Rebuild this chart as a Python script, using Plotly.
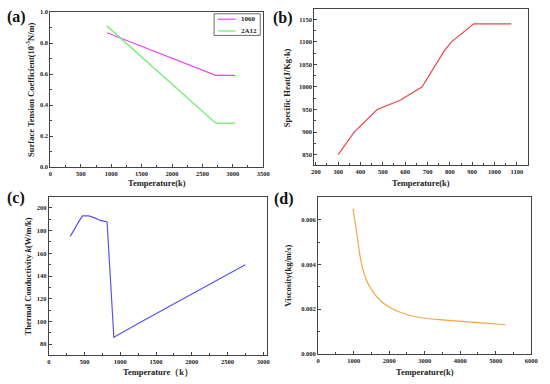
import plotly.graph_objects as go

# (a) surface tension
a_T = [930, 2720, 3040]
a_1060 = [0.867, 0.592, 0.592]
a_2A12 = [0.911, 0.283, 0.283]

# (b) specific heat
b_T = [300, 372, 475, 575, 675, 775, 807, 907, 1075]
b_cp = [850, 900, 950, 970, 1000, 1080, 1100, 1140, 1140]

# (c) thermal conductivity
c_T = [300, 350, 400, 470, 560, 650, 720, 800, 815, 910, 1300, 2750]
c_k = [175, 181, 186, 193, 193, 191, 189, 188, 187.5, 86, 100, 150]

# (d) viscosity
d_T = [980, 1093, 1187, 1327, 1514, 1794, 2075, 2449, 3009, 3570, 4131, 4692, 5280]
d_mu = [0.0065, 0.00534, 0.00431, 0.00343, 0.00284, 0.00232, 0.00203, 0.00178,
        0.00159, 0.00151, 0.00144, 0.00137, 0.0013]

W, H = 550, 384
FONT = "Liberation Serif"
C1060, C2A12 = "#ee44ee", "#66ee66"

def px(x0, x1):
    return [x0 / W, x1 / W]

def py(top, bottom):
    return [1 - bottom / H, 1 - top / H]

fig = go.Figure()
fig.add_trace(go.Scatter(x=a_T, y=a_1060, mode="lines", name="1060", showlegend=False,
                         line=dict(color=C1060, width=1.2), xaxis="x", yaxis="y"))
fig.add_trace(go.Scatter(x=a_T, y=a_2A12, mode="lines", name="2A12", showlegend=False,
                         line=dict(color=C2A12, width=1.2), xaxis="x", yaxis="y"))
fig.add_trace(go.Scatter(x=b_T, y=b_cp, mode="lines", showlegend=False,
                         line=dict(color="#ee4444", width=1.2), xaxis="x2", yaxis="y2"))
fig.add_trace(go.Scatter(x=c_T, y=c_k, mode="lines", showlegend=False,
                         line=dict(color="#5555ee", width=1.2), xaxis="x3", yaxis="y3"))
fig.add_trace(go.Scatter(x=d_T, y=d_mu, mode="lines", showlegend=False,
                         line=dict(color="#f5a545", width=1.2, shape="spline", smoothing=1.0),
                         xaxis="x4", yaxis="y4"))

tickfont = dict(family=FONT, size=6.5, color="#222", weight="bold")

def ax(domain, rng, dtick, minor_dtick, anchor, tickformat=None):
    d = dict(domain=domain, range=rng, dtick=dtick, tick0=0, anchor=anchor,
             showline=True, mirror=True, linecolor="#444", linewidth=1,
             ticks="inside", ticklen=3, tickwidth=1, tickcolor="#444",
             showgrid=False, zeroline=False, tickfont=tickfont,
             minor=dict(ticks="inside", ticklen=2, dtick=minor_dtick, tick0=0,
                        tickcolor="#444", showgrid=False))
    if tickformat:
        d["tickformat"] = tickformat
    return d

layout = dict(
    width=W, height=H, margin=dict(l=0, r=0, t=0, b=0),
    paper_bgcolor="white", plot_bgcolor="white", showlegend=False,
    xaxis=ax(px(48.3, 265), [0, 3500], 500, 250, "y"),
    yaxis=ax(py(8.3, 166), [0, 1.0], 0.2, 0.1, "x", ".1f"),
    xaxis2=ax(px(317, 535), [193, 1151], 100, 50, "y2"),
    yaxis2=ax(py(5, 164), [827, 1173], 50, 25, "x2"),
    xaxis3=ax(px(46.7, 269), [0, 3055], 500, 250, "y3"),
    yaxis3=ax(py(197, 358), [70, 209.3], 20, 10, "x3"),
    xaxis4=ax(px(321, 538), [0, 6000], 1000, 500, "y4"),
    yaxis4=ax(py(197, 356.3), [0, 0.007], 0.002, 0.001, "x4", ".3f"),
)
fig.update_layout(**layout)

tfont = dict(family=FONT, size=8.5, color="#222")
lfont = dict(family=FONT, size=16, color="#111")

def ann(text, x, y, font, angle=0, xanchor="center"):
    fig.add_annotation(text=text, x=x / W, y=1 - y / H, xref="paper", yref="paper",
                       showarrow=False, font=font, textangle=angle,
                       xanchor=xanchor, yanchor="middle")

# manual legend for panel (a)
fig.add_shape(type="rect", xref="paper", yref="paper",
              x0=215 / W, x1=262 / W, y0=1 - 32 / H, y1=1 - 10 / H,
              line=dict(color="#444", width=0.8), fillcolor="white")
for name, col, yy in [("1060", C1060, 15.5), ("2A12", C2A12, 27.5)]:
    fig.add_shape(type="line", xref="paper", yref="paper",
                  x0=219 / W, x1=237 / W, y0=1 - yy / H, y1=1 - yy / H,
                  line=dict(color=col, width=1.2))
    ann("<b>%s</b>" % name, 240, yy, dict(family=FONT, size=7, color="#222"), xanchor="left")

# panel labels
ann("<b>(a)</b>", 14, 13, lfont)
ann("<b>(b)</b>", 285, 14, lfont)
ann("<b>(c)</b>", 13, 198, lfont)
ann("<b>(d)</b>", 286, 199, lfont)

# x titles
ann("<b>Temperature(k)</b>", 157, 182, tfont)
ann("<b>Temperature(k)</b>", 426, 182, tfont)
ann("<b>Temperature\uff08k\uff09</b>", 158, 375, tfont)
ann("<b>Temperature(k)</b>", 430, 375, tfont)

# y titles
ann("<b>Surface Tension Coefficient(10<sup>-3</sup>N/m)</b>", 28, 87, tfont, -90)
ann("<b>Specific Heat(J/Kg·k)</b>", 290, 85, tfont, -90)
ann("<b>Thermal Conductivity <i>k</i>(W/m/k)</b>", 25, 278, tfont, -90)
ann("<b>Viscosity(kg/m/s)</b>", 290, 277, tfont, -90)

fig.write_html("out.html", config={"displayModeBar": False},
               post_script="document.body.style.margin='0px';document.body.style.overflow='hidden';")
